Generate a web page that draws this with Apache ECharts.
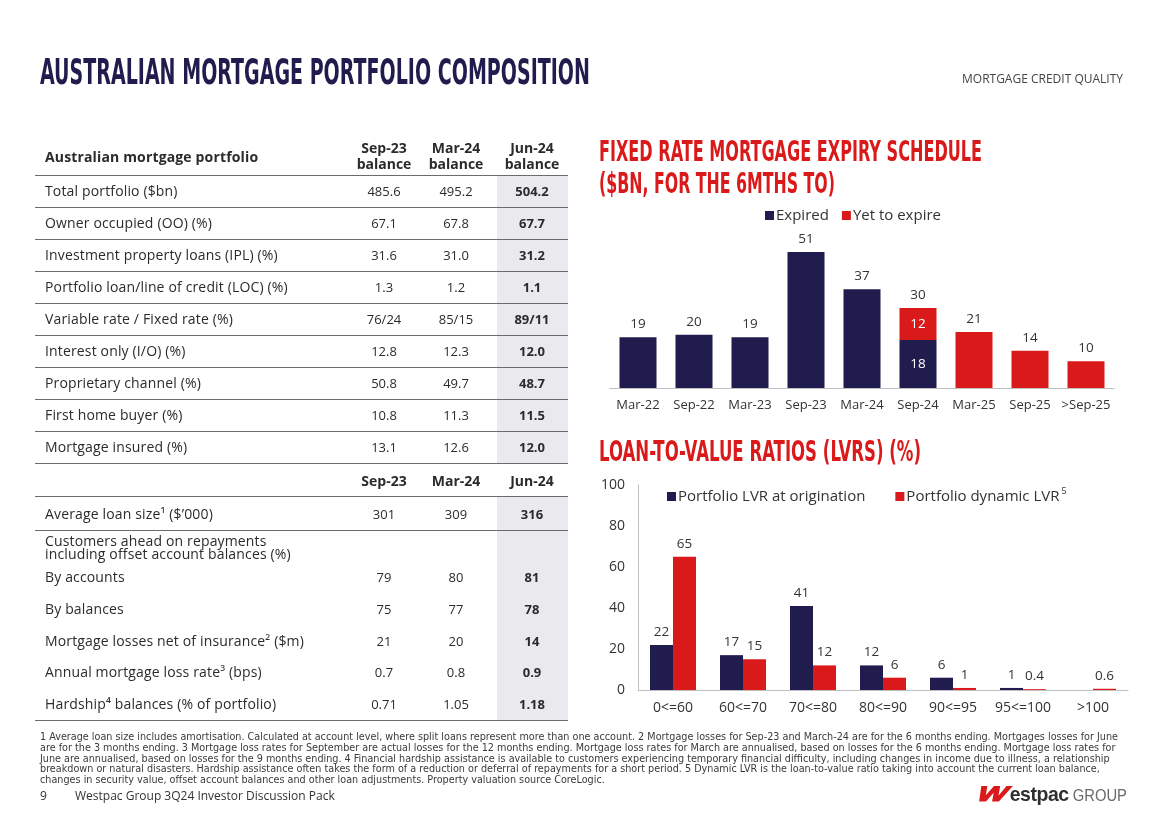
<!DOCTYPE html>
<html>
<head>
<meta charset="utf-8">
<script src="https://cdn.jsdelivr.net/npm/echarts@6/dist/echarts.min.js"></script>
<style>
  html, body { margin:0; padding:0; background:#fff; }
  #page { position:relative; width:1168px; height:825px; overflow:hidden; background:#fff; font-family:'Open Sans','Noto Sans',sans-serif; color:#2b2b2b; }
  #chart { position:absolute; left:0; top:0; width:1168px; height:825px; }
  .abs { position:absolute; white-space:nowrap; }
  .cond { font-family:'Liberation Sans Narrow','DejaVu Sans Condensed','Roboto',sans-serif; font-weight:bold; transform-origin:left top; line-height:1; }
  .layer { position:absolute; left:0; top:0; width:1168px; height:825px; z-index:2; pointer-events:none; }
  .hline { position:absolute; height:1px; background:#6b6b6b; }
  .cell { position:absolute; white-space:nowrap; font-size:13px; }
  .fn { position:absolute; left:40px; white-space:nowrap; font-family:'Liberation Sans Narrow','DejaVu Sans Condensed',sans-serif; font-size:10.5px; line-height:1; color:#3a3a3a; transform-origin:left top; }
</style>
</head>
<body>
<div id="page">
  <div id="chart"></div>
  <div class="layer" id="layer"></div>
</div>
<script>
// ---------------- DATA ----------------
const pageTitle = 'AUSTRALIAN MORTGAGE PORTFOLIO COMPOSITION';
const sectionTag = 'MORTGAGE CREDIT QUALITY';
const tableTitle = 'Australian mortgage portfolio';
const periodColumns = ['Sep-23', 'Mar-24', 'Jun-24'];
const portfolioRows = [
  ['Total portfolio ($bn)', '485.6', '495.2', '504.2'],
  ['Owner occupied (OO) (%)', '67.1', '67.8', '67.7'],
  ['Investment property loans (IPL) (%)', '31.6', '31.0', '31.2'],
  ['Portfolio loan/line of credit (LOC) (%)', '1.3', '1.2', '1.1'],
  ['Variable rate / Fixed rate (%)', '76/24', '85/15', '89/11'],
  ['Interest only (I/O) (%)', '12.8', '12.3', '12.0'],
  ['Proprietary channel (%)', '50.8', '49.7', '48.7'],
  ['First home buyer (%)', '10.8', '11.3', '11.5'],
  ['Mortgage insured (%)', '13.1', '12.6', '12.0']
];
const loanSizeRow = ['Average loan size¹ ($’000)', '301', '309', '316'];
const aheadHeading = ['Customers ahead on repayments', 'including offset account balances (%)'];
const qualityRows = [
  ['By accounts', '79', '80', '81'],
  ['By balances', '75', '77', '78'],
  ['Mortgage losses net of insurance² ($m)', '21', '20', '14'],
  ['Annual mortgage loss rate³ (bps)', '0.7', '0.8', '0.9'],
  ['Hardship⁴ balances (% of portfolio)', '0.71', '1.05', '1.18']
];

const expiryTitle = ['FIXED RATE MORTGAGE EXPIRY SCHEDULE', '($BN, FOR THE 6MTHS TO)'];
const expiryCategories = ['Mar-22', 'Sep-22', 'Mar-23', 'Sep-23', 'Mar-24', 'Sep-24', 'Mar-25', 'Sep-25', '>Sep-25'];
const expiredValues     = [19, 20, 19, 51, 37, 18, null, null, null];
const yetToExpireValues = [null, null, null, null, null, 12, 21, 14, 10];

const lvrTitle = 'LOAN-TO-VALUE RATIOS (LVRS) (%)';
const lvrCategories = ['0<=60', '60<=70', '70<=80', '80<=90', '90<=95', '95<=100', '>100'];
const lvrOrigination = [22, 17, 41, 12, 6, 1, null];
const lvrDynamic     = [65, 15, 12, 6, 1, 0.4, 0.6];

const footnotes = [
  '1 Average loan size includes amortisation. Calculated at account level, where split loans represent more than one account. 2 Mortgage losses for Sep-23 and March-24 are for the 6 months ending.  Mortgages losses for June',
  'are for the 3 months ending.  3 Mortgage loss rates for September are actual losses for the 12 months ending. Mortgage loss rates for March are annualised, based on losses for the 6 months ending. Mortgage loss rates for',
  'June are annualised, based on losses for the 9 months ending.  4 Financial hardship assistance is available to customers experiencing temporary financial difficulty, including changes in income due to illness, a relationship',
  'breakdown or natural disasters. Hardship assistance often takes the form of a reduction or deferral of repayments for a short period. 5 Dynamic LVR is the loan-to-value ratio taking into account the current loan balance,',
  'changes in security value, offset account balances and other loan adjustments. Property valuation source CoreLogic.'
];
const pageNumber = '9';
const footerText = 'Westpac Group 3Q24 Investor Discussion Pack';

// ---------------- STYLE ----------------
const NAVY = '#211c4e';
const RED = '#da1a1a';
const TXT = '#333333';
const FONT = "'Open Sans','Noto Sans',sans-serif";

// ---------------- HTML LAYER ----------------
const layer = document.getElementById('layer');
function el(cls, text, css) {
  const d = document.createElement('div');
  d.className = cls;
  d.textContent = text;
  Object.assign(d.style, css || {});
  layer.appendChild(d);
  return d;
}
function fit(d, w) {
  d.style.transform = 'none';
  const r = d.getBoundingClientRect().width;
  d.style.transform = 'scaleX(' + (w / r) + ')';
}

// titles
const t1 = el('abs cond', pageTitle, { left:'40px', top:'55px', fontSize:'35px', color:NAVY });
el('abs', sectionTag, { left:'962px', top:'70px', fontSize:'12px', color:'#444', fontFamily:FONT });
const c1a = el('abs cond', expiryTitle[0], { left:'599px', top:'138px', fontSize:'28px', color:RED });
const c1b = el('abs cond', expiryTitle[1], { left:'599px', top:'170px', fontSize:'28px', color:RED });
const c2 = el('abs cond', lvrTitle, { left:'599px', top:'438px', fontSize:'28px', color:RED });

// table
const colCenters = [384, 456, 532];
const TL = 35, TR = 568, LABX = 45;
el('abs', '', { left:'497px', top:'175px', width:'71px', height:(463-175)+'px', background:'#e9e9ee' });
el('abs', '', { left:'497px', top:'496px', width:'71px', height:(720-496)+'px', background:'#e9e9ee' });

function hline(y) { el('hline', '', { left:TL+'px', top:(y-0.5)+'px', width:(TR-TL)+'px' }); }
function textAt(text, xc, yc, opts) {
  opts = opts || {};
  const d = el('cell', text, { top:(yc-10)+'px', height:'20px', lineHeight:'20px', fontWeight: opts.bold ? '700' : '400', color: opts.color || '#2b2b2b' });
  if (opts.center) { d.style.left = (xc-60)+'px'; d.style.width='120px'; d.style.textAlign='center'; }
  else { d.style.left = xc + 'px'; d.style.fontSize = '14px'; d.style.letterSpacing = '0.15px'; }
  if (opts.size) d.style.fontSize = opts.size;
  return d;
}
textAt(tableTitle, LABX, 157, { bold:true });
periodColumns.forEach((p, i) => {
  textAt(p, colCenters[i], 148, { bold:true, center:true, size:'14px' });
  textAt('balance', colCenters[i], 164, { bold:true, center:true, size:'14px' });
});
hline(175);
portfolioRows.forEach((r, k) => {
  const yc = 191 + k * 32;
  textAt(r[0], LABX, yc);
  for (let i = 1; i < 4; i++) textAt(r[i], colCenters[i-1], yc, { center:true, bold: i === 3 });
  hline(207 + k * 32);
});
periodColumns.forEach((p, i) => textAt(p, colCenters[i], 481, { bold:true, center:true, size:'14px' }));
hline(496);
textAt(loanSizeRow[0], LABX, 514);
for (let i = 1; i < 4; i++) textAt(loanSizeRow[i], colCenters[i-1], 514, { center:true, bold: i === 3 });
hline(530);
textAt(aheadHeading[0], LABX, 541);
textAt(aheadHeading[1], LABX, 554);
qualityRows.forEach((r, k) => {
  const yc = 577 + k * 31.8;
  textAt(r[0], LABX, yc);
  for (let i = 1; i < 4; i++) textAt(r[i], colCenters[i-1], yc, { center:true, bold: i === 3 });
});
hline(720);

// footnotes
const fnEls = footnotes.map((f, i) => el('fn', f, { top:(731 + i*10.8)+'px' }));
el('abs', pageNumber, { left:'40px', top:'787px', fontSize:'12px', color:'#333', fontFamily:FONT });
el('abs', footerText, { left:'75px', top:'787px', fontSize:'12px', color:'#333', fontFamily:FONT });
// logo
const logo = document.createElement('div');
logo.className = 'abs';
Object.assign(logo.style, { left:'978px', top:'781px', fontFamily:"'Liberation Sans','Roboto',sans-serif", fontSize:'21px', lineHeight:'26px', letterSpacing:'-0.5px', transformOrigin:'left top' });
logo.innerHTML = '<span style="color:'+RED+';font-weight:900;font-style:italic;display:inline-block;transform:skewX(-14deg) scaleX(1.6);transform-origin:left;margin-right:15px;-webkit-text-stroke:1.2px '+RED+'">W</span><span style="color:#2f2f2f;font-weight:700">estpac</span><span style="color:#6a6a6a;font-weight:400;font-size:16px;letter-spacing:0">&nbsp;GROUP</span>';
layer.appendChild(logo);

function fitAll() {
  fit(t1, 550);
  fit(c1a, 383);
  fit(c1b, 236);
  fit(c2, 322);
  fit(logo, 149);
  fnEls[0].style.transform = 'none';
  const w0 = fnEls[0].getBoundingClientRect().width;
  const s = 1078 / w0;
  fnEls.forEach(e => e.style.transform = 'scaleX(' + s + ')');
}
fitAll();
if (document.fonts && document.fonts.ready) document.fonts.ready.then(fitAll);

// ---------------- CHARTS ----------------
const isSplit = i => expiredValues[i] != null && yetToExpireValues[i] != null;
const toBar = (arr) => arr.map((v, i) => v == null ? '-' : (isSplit(i) ? { value: v, label: { position: 'inside', color: '#fff' } } : v));
const totalData = expiryCategories.map((c, i) => isSplit(i) ? 0 : '-');
const lbl = { show: true, position: 'top', color: TXT, fontSize: 13.5, distance: 6, fontFamily: FONT };

const chart = echarts.init(document.getElementById('chart'), null, { renderer: 'canvas' });
chart.setOption({
  animation: false,
  textStyle: { fontFamily: FONT },
  legend: [
    {
      data: ['Expired', 'Yet to expire'],
      left: 765, top: 208, padding: 0, icon: 'rect', itemWidth: 9, itemHeight: 9, itemGap: 13,
      textStyle: { fontSize: 15, color: TXT, padding: [0, 0, 0, -3] }
    },
    {
      data: ['Portfolio LVR at origination', 'Portfolio dynamic LVR'],
      left: 667, top: 487, padding: 0, icon: 'rect', itemWidth: 9, itemHeight: 9, itemGap: 30,
      formatter: n => n === 'Portfolio dynamic LVR' ? '{a|' + n + '}{s|5}' : '{a|' + n + '}',
      textStyle: { fontSize: 15, color: TXT, padding: [0, 0, 0, -3],
        rich: { a: { fontSize: 15, color: TXT }, s: { fontSize: 9, color: TXT, verticalAlign: 'top', padding: [0, 0, 10, 2] } } }
    }
  ],
  grid: [
    { left: 610, top: 228, width: 504, height: 160 },
    { left: 638, top: 485, width: 490, height: 205 }
  ],
  xAxis: [
    { gridIndex: 0, type: 'category', data: expiryCategories,
      axisLine: { lineStyle: { color: '#bfbfbf', width: 1 } }, axisTick: { show: false },
      axisLabel: { color: TXT, fontSize: 13, margin: 11, interval: 0 } },
    { gridIndex: 1, type: 'category', data: lvrCategories,
      axisLine: { lineStyle: { color: '#bfbfbf', width: 1 } }, axisTick: { show: false },
      axisLabel: { color: TXT, fontSize: 14, margin: 11, interval: 0 } }
  ],
  yAxis: [
    { gridIndex: 0, type: 'value', min: 0, max: 60, show: false, splitLine: { show: false } },
    { gridIndex: 1, type: 'value', min: 0, max: 100, interval: 20,
      axisLine: { show: true, lineStyle: { color: '#bfbfbf', width: 1 } }, axisTick: { show: false },
      splitLine: { show: false }, axisLabel: { color: TXT, fontSize: 14, margin: 13 } }
  ],
  series: [
    { name: 'Expired', type: 'bar', xAxisIndex: 0, yAxisIndex: 0, stack: 'exp', barWidth: 37,
      itemStyle: { color: NAVY }, label: lbl, data: toBar(expiredValues) },
    { name: 'Yet to expire', type: 'bar', xAxisIndex: 0, yAxisIndex: 0, stack: 'exp', barWidth: 37,
      itemStyle: { color: RED }, label: lbl, data: toBar(yetToExpireValues) },
    { name: 'Total', type: 'bar', xAxisIndex: 0, yAxisIndex: 0, stack: 'exp', barWidth: 37,
      itemStyle: { color: 'rgba(0,0,0,0)' },
      label: Object.assign({}, lbl, { formatter: p => String(expiredValues[p.dataIndex] + yetToExpireValues[p.dataIndex]) }),
      data: totalData },
    { name: 'Portfolio LVR at origination', type: 'bar', xAxisIndex: 1, yAxisIndex: 1, barWidth: 23, barGap: '0%',
      itemStyle: { color: NAVY }, label: lbl, data: lvrOrigination.map(v => v == null ? '-' : v) },
    { name: 'Portfolio dynamic LVR', type: 'bar', xAxisIndex: 1, yAxisIndex: 1, barWidth: 23, barGap: '0%',
      itemStyle: { color: RED }, label: lbl, data: lvrDynamic.map(v => v == null ? '-' : v) }
  ]
});
</script>
</body>
</html>
